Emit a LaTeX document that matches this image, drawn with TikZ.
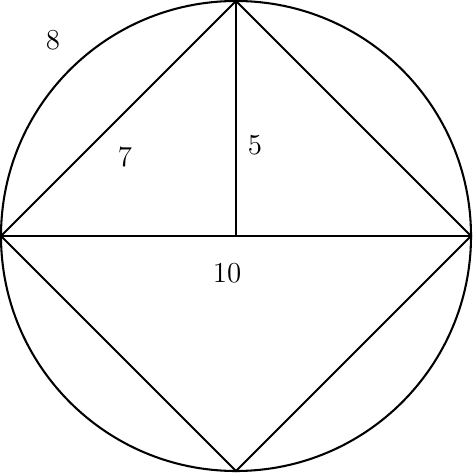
\documentclass[tikz,border=0pt]{standalone}
\begin{document}
\begin{tikzpicture}[line width=1pt, x=0.01702cm, y=0.01702cm,
  lbl/.style={font=\fontsize{14}{16}\selectfont}]

  \useasboundingbox (-236,-238) rectangle (238,236);

  \coordinate (O) at (0,0);
  \coordinate (T) at (0,235);
  \coordinate (L) at (-235,0);
  \coordinate (R) at (235,0);
  \coordinate (B) at (0,-235);

  \draw (O) circle (235);
  \draw (T) -- (L) -- (B) -- (R) -- cycle;
  \draw (L) -- (R);
  \draw (T) -- (O);

  \node[lbl] (eight) at (-183,196) {8};
  \node[lbl] (seven) at (-111,79) {7};
  \node[lbl] (five) at (19,91) {5};
  \node[lbl] (ten) at (-9,-37) {10};

\end{tikzpicture}
\end{document}
